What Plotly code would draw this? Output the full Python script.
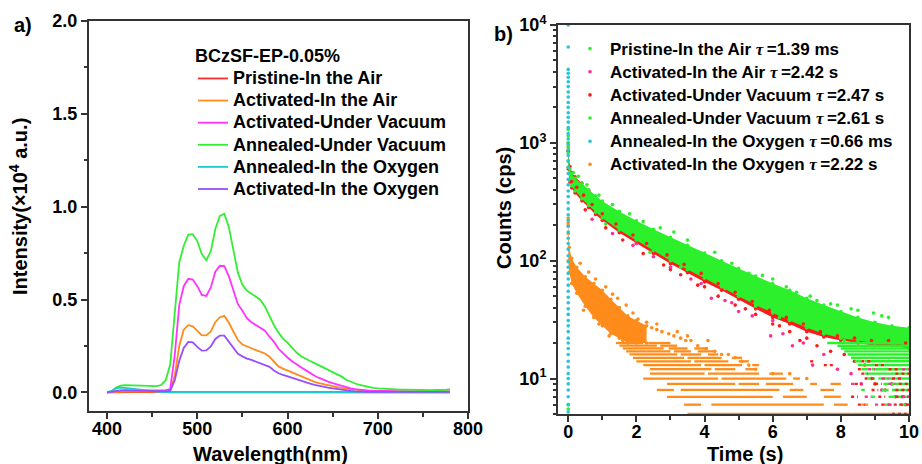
import plotly.graph_objects as go

# ---------------- panel a) : PL spectra ----------------
wavelength = [400, 405, 410, 415, 420, 425, 430, 435, 440, 445,
              450, 455, 460, 465, 470, 475, 480, 485, 490, 495,
              500, 505, 510, 515, 520, 525, 530, 535, 540, 545,
              550, 555, 560, 565, 570, 575, 580, 585, 590, 595,
              600, 605, 610, 615, 620, 625, 630, 635, 640, 645,
              650, 655, 660, 665, 670, 675, 680, 685, 690, 695,
              700, 705, 710, 715, 720, 725, 730, 735, 740, 745,
              750, 755, 760, 765, 770, 775, 780]

pl_pristine_air = [0.000, 0.001, 0.002, 0.002, 0.002, 0.002, 0.002, 0.002, 0.002, 0.002,
                   0.002, 0.002, 0.002, 0.003, 0.003, 0.003, 0.003, 0.003, 0.002, 0.002,
                   0.002, 0.002, 0.002, 0.002, 0.002, 0.002, 0.002, 0.002, 0.002, 0.002,
                   0.002, 0.002, 0.002, 0.002, 0.002, 0.002, 0.002, 0.002, 0.002, 0.002,
                   0.001, 0.001, 0.001, 0.001, 0.001, 0.001, 0.001, 0.001, 0.001, 0.001,
                   0.001, 0.001, 0.001, 0.001, 0.001, 0.001, 0.001, 0.001, 0.001, 0.001,
                   0.001, 0.001, 0.001, 0.001, 0.001, 0.001, 0.001, 0.001, 0.001, 0.001,
                   0.001, 0.001, 0.001, 0.001, 0.001, 0.001, 0.001]

pl_activated_air = [0.000, 0.002, 0.004, 0.005, 0.005, 0.004, 0.004, 0.004, 0.003, 0.003,
                    0.003, 0.003, 0.003, 0.004, 0.008, 0.090, 0.250, 0.338, 0.362, 0.356,
                    0.332, 0.308, 0.307, 0.328, 0.378, 0.405, 0.412, 0.375, 0.328, 0.282,
                    0.258, 0.246, 0.238, 0.228, 0.220, 0.210, 0.192, 0.166, 0.140, 0.128,
                    0.118, 0.106, 0.094, 0.084, 0.075, 0.066, 0.057, 0.050, 0.044, 0.039,
                    0.034, 0.029, 0.025, 0.021, 0.017, 0.013, 0.010, 0.008, 0.007, 0.006,
                    0.005, 0.005, 0.005, 0.005, 0.005, 0.005, 0.005, 0.005, 0.005, 0.005,
                    0.005, 0.005, 0.005, 0.005, 0.005, 0.005, 0.005]

pl_activated_vacuum = [0.000, 0.003, 0.010, 0.012, 0.012, 0.011, 0.011, 0.010, 0.010, 0.009,
                       0.009, 0.009, 0.010, 0.012, 0.018, 0.200, 0.470, 0.572, 0.612, 0.608,
                       0.572, 0.525, 0.520, 0.565, 0.650, 0.682, 0.680, 0.625, 0.550, 0.475,
                       0.440, 0.400, 0.378, 0.362, 0.350, 0.332, 0.300, 0.272, 0.235, 0.210,
                       0.188, 0.168, 0.150, 0.135, 0.120, 0.104, 0.090, 0.078, 0.067, 0.058,
                       0.050, 0.042, 0.034, 0.028, 0.022, 0.018, 0.014, 0.012, 0.010, 0.009,
                       0.008, 0.007, 0.007, 0.007, 0.006, 0.006, 0.006, 0.006, 0.005, 0.005,
                       0.005, 0.005, 0.005, 0.005, 0.005, 0.005, 0.006]

pl_annealed_vacuum = [0.000, 0.006, 0.026, 0.036, 0.039, 0.038, 0.038, 0.036, 0.035, 0.034,
                      0.033, 0.034, 0.040, 0.065, 0.150, 0.420, 0.700, 0.790, 0.850, 0.852,
                      0.815, 0.745, 0.712, 0.760, 0.880, 0.950, 0.962, 0.890, 0.775, 0.645,
                      0.580, 0.548, 0.532, 0.516, 0.498, 0.462, 0.410, 0.362, 0.322, 0.290,
                      0.268, 0.240, 0.215, 0.195, 0.181, 0.169, 0.158, 0.146, 0.134, 0.123,
                      0.112, 0.098, 0.085, 0.068, 0.057, 0.048, 0.040, 0.034, 0.029, 0.025,
                      0.022, 0.020, 0.018, 0.017, 0.016, 0.015, 0.015, 0.014, 0.014, 0.013,
                      0.013, 0.013, 0.012, 0.013, 0.013, 0.014, 0.018]

pl_annealed_oxygen = [0.000, 0.008, 0.022, 0.026, 0.025, 0.022, 0.018, 0.014, 0.010, 0.007,
                      0.005, 0.003, 0.002, 0.001, 0.001, 0.001, 0.001, 0.001, 0.001, 0.001,
                      0.001, 0.001, 0.001, 0.001, 0.001, 0.001, 0.001, 0.001, 0.001, 0.001,
                      0.001, 0.001, 0.001, 0.001, 0.001, 0.001, 0.001, 0.001, 0.001, 0.001,
                      0.001, 0.001, 0.001, 0.001, 0.001, 0.001, 0.001, 0.001, 0.001, 0.001,
                      0.001, 0.001, 0.001, 0.001, 0.001, 0.001, 0.001, 0.001, 0.001, 0.001,
                      0.001, 0.001, 0.001, 0.001, 0.001, 0.001, 0.001, 0.001, 0.001, 0.001,
                      0.001, 0.001, 0.001, 0.001, 0.001, 0.001, 0.001]

pl_activated_oxygen = [0.000, 0.004, 0.010, 0.011, 0.011, 0.010, 0.009, 0.008, 0.007, 0.006,
                       0.005, 0.005, 0.005, 0.006, 0.010, 0.065, 0.170, 0.240, 0.272, 0.270,
                       0.245, 0.225, 0.226, 0.248, 0.288, 0.306, 0.306, 0.275, 0.240, 0.208,
                       0.194, 0.182, 0.175, 0.166, 0.160, 0.150, 0.138, 0.118, 0.103, 0.094,
                       0.086, 0.076, 0.068, 0.060, 0.053, 0.047, 0.041, 0.035, 0.030, 0.026,
                       0.022, 0.018, 0.014, 0.011, 0.008, 0.006, 0.004, 0.003, 0.003, 0.003,
                       0.003, 0.003, 0.003, 0.003, 0.003, 0.003, 0.003, 0.003, 0.003, 0.003,
                       0.003, 0.003, 0.003, 0.003, 0.003, 0.003, 0.003]

spectra_names = ["Pristine-In the Air", "Activated-In the Air", "Activated-Under Vacuum",
                 "Annealed-Under Vacuum", "Annealed-In the Oxygen", "Activated-In the Oxygen"]
spectra_colors = ["#ff2a2a", "#ff8c1a", "#ff33ff", "#33ee33", "#22c8d0", "#9a4dff"]
spectra_values = [pl_pristine_air, pl_activated_air, pl_activated_vacuum,
                  pl_annealed_vacuum, pl_annealed_oxygen, pl_activated_oxygen]

# ---------------- panel b) : phosphorescence decay ----------------
t_band = [0.0, 0.05, 0.1, 0.2, 0.4, 0.6, 0.8, 1.0, 1.5, 2.0, 2.5, 3.0, 3.5,
          4.0, 4.5, 5.0, 5.5, 6.0, 6.5, 7.0, 7.5, 8.0, 8.5, 9.0, 9.5, 10.0]
ann_vac_hi = [820, 600, 545, 500, 450, 400, 355, 320, 262, 218, 185, 158, 135,
              116, 100, 86, 74, 64, 56, 48, 42, 37, 33, 30, 28, 27]
ann_vac_mid = [700, 540, 485, 440, 390, 345, 305, 272, 218, 182, 150, 126, 107,
               91, 78, 66, 56, 48, 42, 37, 32, 29, 27, 25, 24, 23]
ann_vac_lo = [620, 480, 430, 390, 335, 295, 258, 230, 182, 150, 122, 100, 84,
              71, 60, 50, 42, 36, 31, 27, 24, 22, 21, 20, 20, 19]
act_vac_hi = [850, 630, 560, 515, 455, 395, 345, 305, 245, 200, 168, 142, 120,
              102, 88, 75, 64, 55, 48, 42, 37, 33, 30, 28, 26, 25]
act_vac_lo = [600, 465, 415, 375, 322, 283, 247, 220, 173, 142, 115, 94, 79,
              66, 56, 47, 39, 33, 29, 25, 22.5, 21, 20, 19, 19, 18]

ann_vac_out_t = [0.15, 0.3, 0.55, 0.9, 1.3, 1.8, 2.2, 2.7, 3.1, 3.5, 3.9, 4.3, 4.8, 5.3, 5.7,
                 6.0, 6.4, 6.7, 7.1, 7.3, 7.7, 7.9, 8.3, 8.5, 8.96, 9.2, 9.4, 9.74, 9.95,
                 1.1, 2.4, 3.3, 4.6, 5.5, 6.2, 7.5, 8.1, 8.8, 9.6]
ann_vac_out_c = [560, 520, 440, 360, 300, 250, 215, 190, 175, 150, 116, 118, 95, 78, 75,
                 70, 60, 54, 50, 46, 43, 42, 39, 38, 36, 34, 33, 26, 24,
                 205, 118, 88, 58, 41, 33, 24, 21, 21, 20]
act_vac_out_t = [0.5, 1.1, 1.6, 2.2, 2.8, 3.3, 3.8, 4.4, 4.9, 5.5, 6.0, 6.5, 7.0, 7.3,
                 7.7, 8.1, 8.4, 8.7, 9.0, 9.3, 9.6, 9.9, 3.0, 4.0, 5.2, 6.2, 6.8]
act_vac_out_c = [270, 190, 150, 115, 92, 76, 62, 50, 42, 35, 29, 25, 22, 19,
                 17, 16, 14, 13, 9, 8, 7, 6, 84, 60, 39, 28, 21]
act_vac_in_t = [0.1, 0.25, 0.45, 0.7, 1.0, 1.4, 1.9, 2.3, 2.9, 3.4, 3.9, 4.4, 4.9, 5.4,
                5.9, 6.4, 6.9, 7.4, 7.9, 8.4, 8.9, 9.4, 9.9]
act_vac_in_c = [470, 420, 360, 300, 250, 205, 165, 140, 112, 93, 78, 64, 54, 45,
                38, 33, 29, 25, 23, 22, 21, 21, 20]
act_air_t = [0.7, 1.3, 1.9, 2.5, 3.0, 3.6, 4.2, 4.6, 5.0, 5.4, 5.94, 6.3, 6.58, 6.9,
             7.17, 7.5, 7.9, 8.3, 8.6, 8.9, 9.2, 9.5, 9.8, 2.0, 3.9, 4.8, 6.0]
act_air_c = [225, 170, 135, 108, 88, 70, 48, 46, 37, 34, 23, 24, 19, 20,
             13, 16, 12, 11, 9, 10, 8, 9, 7, 140, 64, 44, 31]

# quantised count levels (integer counts) in the long-time tails
ann_vac_tail_levels = [20, 19, 18, 17, 16, 15, 14, 13, 12, 11, 10, 9, 8, 7, 6]
ann_vac_tail_segments = [[(7.6, 10.0)], [(7.9, 10.0)], [(8.0, 10.0)], [(8.1, 10.0)],
                         [(8.2, 10.0)], [(8.3, 10.0)], [(8.4, 8.6), (8.7, 10.0)],
                         [(8.5, 10.0)], [(8.6, 8.8), (8.9, 10.0)], [(8.7, 10.0)],
                         [(8.8, 9.0), (9.1, 10.0)], [(9.0, 9.1), (9.25, 10.0)],
                         [(8.6, 8.7), (9.2, 9.4), (9.5, 10.0)], [(8.9, 9.0), (9.4, 10.0)],
                         [(9.3, 9.4), (9.7, 10.0)]]
act_vac_tail_levels = [14, 13, 12, 11, 10, 9, 8, 7, 6, 5]
act_vac_tail_segments = [[(7.1, 7.2), (8.6, 8.9)], [(7.5, 7.8), (9.0, 9.3)],
                         [(8.5, 8.6), (9.4, 9.7)], [(8.6, 8.8), (9.6, 10.0)],
                         [(8.7, 9.0), (9.5, 9.8)], [(8.4, 8.6), (9.0, 9.2), (9.7, 10.0)],
                         [(8.9, 9.1), (9.6, 10.0)], [(8.3, 8.5), (9.1, 9.3), (9.6, 10.0)],
                         [(8.5, 8.7), (9.2, 10.0)], [(9.5, 10.0)]]
act_air_tail_levels = [12, 10, 9, 7, 6]
act_air_tail_segments = [[(8.8, 9.0), (9.8, 10.0)], [(9.2, 9.4)], [(8.3, 8.5), (9.4, 9.6)],
                         [(8.7, 8.9), (9.8, 10.0)], [(9.0, 9.2), (9.4, 9.6)]]

# Activated - in the oxygen (orange)
t_oxy = [0.0, 0.03, 0.1, 0.25, 0.5, 0.75, 1.0, 1.25, 1.5, 1.75, 2.0, 2.3]
act_oxy_hi = [210, 130, 105, 88, 73, 64, 56, 47, 40, 34, 31, 28]
act_oxy_lo = [100, 80, 64, 53, 41, 33, 28, 24, 22, 20, 20, 20]
act_oxy_spike = [1000, 930, 860, 230, 200, 170]
act_oxy_out_t = [0.35, 0.6, 0.8, 1.1, 1.3, 1.45, 1.7, 1.9, 2.05, 2.3, 2.45, 2.6, 2.75, 2.95,
                 3.1, 3.3, 3.45, 3.6, 3.8, 4.05, 4.3, 4.5, 4.7, 4.9, 5.1, 5.3, 5.5, 6.0, 6.5, 7.0,
                 0.45, 0.9, 1.2, 1.6, 2.6, 3.2, 3.5, 4.1]
act_oxy_out_c = [95, 80, 70, 60, 52, 48, 42, 36, 32, 30, 27, 29, 25, 24,
                 23, 22, 21, 21, 19, 18, 17, 16, 16, 15, 14, 13, 12, 11, 11, 10,
                 38, 29, 23, 21, 26, 25, 23, 21]
act_oxy_levels = [20, 19, 18, 17, 16, 15, 14, 13, 12, 11, 10, 9, 8, 7, 6, 5]
act_oxy_segments = [[(1.4, 2.2), (2.35, 3.0)], [(1.5, 2.6), (2.7, 3.2)],
                    [(1.6, 2.8), (2.95, 3.5), (3.7, 4.1)], [(1.7, 3.0), (3.1, 3.6), (3.8, 4.3)],
                    [(1.8, 3.2), (3.3, 3.9), (4.1, 4.4)], [(1.9, 3.4), (3.5, 4.5), (4.8, 5.1)],
                    [(2.0, 3.6), (3.7, 4.7), (5.0, 5.3)], [(2.2, 3.9), (4.0, 5.1), (5.4, 5.6)],
                    [(2.4, 4.2), (4.3, 4.9), (5.2, 5.5)], [(2.4, 4.0), (4.1, 5.6), (5.9, 6.3)],
                    [(2.2, 4.4), (4.5, 6.4), (6.6, 6.8)],
                    [(2.9, 4.9), (5.0, 5.6), (5.8, 6.6), (7.1, 7.3), (7.7, 8.0)],
                    [(2.6, 3.1), (3.3, 6.2), (6.5, 6.9), (7.4, 7.8)],
                    [(2.9, 6.0), (6.3, 7.0), (7.5, 8.0)],
                    [(3.4, 3.9), (4.2, 7.5), (7.8, 8.2), (8.6, 8.8)], [(3.5, 10.0)]]

# very short-lived samples: all counts at t = 0
ann_oxy_counts = [10000, 6500, 4200, 3900, 3600, 3300, 3000, 2700, 2450, 2200, 2000, 1800,
                  1650, 1500, 1350, 1200, 1080, 970, 870, 780, 700, 620, 550, 490, 440, 390,
                  350, 310, 275, 245, 220, 195, 175, 155, 140, 125, 110, 98, 88, 78, 70, 62,
                  55, 49, 44, 39, 35, 31, 28, 25, 22, 20, 18, 16, 14, 12.5, 11, 10, 9, 8, 7, 6, 5.2]
pristine_counts = [1300, 1150, 1000, 910, 6, 5.5]

decay_labels = ["Pristine-In the Air", "Activated-In the Air", "Activated-Under Vacuum",
                "Annealed-Under Vacuum", "Annealed-In the Oxygen", "Activated-In the Oxygen"]
decay_tau = ["1.39 ms", "2.42 s", "2.47 s", "2.61 s", "0.66 ms", "2.22 s"]

C_GREEN = "#2cf02c"
C_PINK = "#ff2d95"
C_RED = "#ff1a1a"
C_CYAN = "#26c6d6"
C_ORANGE = "#ff8c1a"

FONT = "Liberation Sans, Arial, Helvetica, sans-serif"
FRAME = "#333333"

fig = go.Figure()

# ----- panel a traces -----
for name, vals, col in zip(spectra_names, spectra_values, spectra_colors):
    fig.add_trace(go.Scatter(
        x=wavelength, y=vals, mode="lines",
        name='<span style="font-size:18px">' + name + '</span>',
        line=dict(color=col, width=1.8),
        xaxis="x", yaxis="y", legend="legend"))


def seg_xy(levels, segments):
    xs, ys = [], []
    for lev, segs in zip(levels, segments):
        for s, e in segs:
            xs += [s, e, None]
            ys += [lev, lev, None]
    return xs, ys


def leg_name(i):
    return ('<span style="font-size:17px">' + decay_labels[i] +
            ' <span style="font-family:\'Liberation Serif\', serif"><i>τ</i></span>\u2009=' +
            decay_tau[i] + '</span>')


common2 = dict(xaxis="x2", yaxis="y2", legend="legend2", hoverinfo="skip")
MS = 3.6

# orange quantised rows and band
ox, oy = seg_xy(act_oxy_levels, act_oxy_segments)
fig.add_trace(go.Scatter(x=ox, y=oy, mode="lines", line=dict(color=C_ORANGE, width=2.3),
                         showlegend=False, **common2))
fig.add_trace(go.Scatter(x=t_oxy + t_oxy[::-1], y=act_oxy_hi + act_oxy_lo[::-1],
                         mode="lines", fill="toself", fillcolor=C_ORANGE,
                         line=dict(width=0, color=C_ORANGE), showlegend=False, **common2))
fig.add_trace(go.Scatter(x=t_oxy + t_oxy + act_oxy_out_t + [0.0 for _ in act_oxy_spike],
                         y=act_oxy_hi + act_oxy_lo + act_oxy_out_c + act_oxy_spike,
                         mode="markers", marker=dict(color=C_ORANGE, size=MS),
                         name=leg_name(5), legendrank=6, **common2))

# activated under vacuum (red) band
fig.add_trace(go.Scatter(x=t_band + t_band[::-1], y=act_vac_hi + act_vac_lo[::-1],
                         mode="lines", fill="toself", fillcolor=C_RED,
                         line=dict(width=0, color=C_RED), showlegend=False, **common2))
fig.add_trace(go.Scatter(x=t_band + t_band + act_vac_out_t, y=act_vac_hi + act_vac_lo + act_vac_out_c,
                         mode="markers", marker=dict(color=C_RED, size=MS),
                         name=leg_name(2), legendrank=3, **common2))
# activated in air (pink)
fig.add_trace(go.Scatter(x=act_air_t, y=act_air_c, mode="markers",
                         marker=dict(color=C_PINK, size=MS),
                         name=leg_name(1), legendrank=2, **common2))

# annealed under vacuum (green) band on top
gx, gy = seg_xy(ann_vac_tail_levels, ann_vac_tail_segments)
fig.add_trace(go.Scatter(x=gx, y=gy, mode="lines", line=dict(color=C_GREEN, width=2.4),
                         showlegend=False, **common2))
fig.add_trace(go.Scatter(x=t_band + t_band[::-1], y=ann_vac_hi + ann_vac_lo[::-1],
                         mode="lines", fill="toself", fillcolor=C_GREEN,
                         line=dict(width=0, color=C_GREEN), showlegend=False, **common2))
fig.add_trace(go.Scatter(x=t_band + t_band + t_band + ann_vac_out_t,
                         y=ann_vac_hi + ann_vac_mid + ann_vac_lo + ann_vac_out_c,
                         mode="markers", marker=dict(color=C_GREEN, size=MS),
                         name=leg_name(3), legendrank=4, **common2))

# red / pink specks on top of green
rx, ry = seg_xy(act_vac_tail_levels, act_vac_tail_segments)
fig.add_trace(go.Scatter(x=rx, y=ry, mode="lines", line=dict(color=C_RED, width=2.4, dash="dot"),
                         showlegend=False, **common2))
px_, py_ = seg_xy(act_air_tail_levels, act_air_tail_segments)
fig.add_trace(go.Scatter(x=px_, y=py_, mode="lines", line=dict(color=C_PINK, width=2.4, dash="dot"),
                         showlegend=False, **common2))
fig.add_trace(go.Scatter(x=act_vac_in_t, y=act_vac_in_c, mode="markers",
                         marker=dict(color=C_RED, size=MS), showlegend=False, **common2))

# short-lived samples at t = 0
fig.add_trace(go.Scatter(x=[0.0 for _ in pristine_counts], y=pristine_counts, mode="markers",
                         marker=dict(color=C_GREEN, size=MS),
                         name=leg_name(0), legendrank=1, **common2))
fig.add_trace(go.Scatter(x=[0.0 for _ in ann_oxy_counts], y=ann_oxy_counts, mode="markers",
                         marker=dict(color=C_CYAN, size=MS),
                         name=leg_name(4), legendrank=5, **common2))

W, H = 922, 464
tick_font = dict(family=FONT, size=18, color="black", weight="bold")
axis_common = dict(showline=True, linecolor=FRAME, linewidth=2, mirror=True,
                   ticks="outside", ticklen=6, tickwidth=1.5, tickcolor=FRAME,
                   showgrid=False, zeroline=False, automargin=False, tickfont=tick_font)

log_minor = [m * 10 ** k for k in range(0, 4) for m in range(2, 10) if 5 <= m * 10 ** k < 10000]

fig.update_layout(
    width=W, height=H, margin=dict(l=0, r=0, t=0, b=0),
    paper_bgcolor="white", plot_bgcolor="white",
    font=dict(family=FONT, size=18, color="black"),
    xaxis=dict(domain=[89 / W, 468 / W], range=[380, 800], tickvals=[400, 500, 600, 700, 800],
               minor=dict(tickvals=[450, 550, 650, 750], ticks="outside", ticklen=3.5,
                          tickwidth=1.5, tickcolor=FRAME),
               ticklabelstandoff=-6, anchor="y", **axis_common),
    yaxis=dict(domain=[1 - 411 / H, 1 - 21 / H], range=[-0.1, 2.0],
               tickvals=[0, 0.5, 1.0, 1.5, 2.0], ticktext=["0.0", "0.5", "1.0", "1.5", "2.0"],
               minor=dict(tickvals=[0.25, 0.75, 1.25, 1.75], ticks="outside", ticklen=3.5,
                          tickwidth=1.5, tickcolor=FRAME),
               anchor="x", **axis_common),
    xaxis2=dict(domain=[558 / W, 909 / W], range=[-0.3, 10], tickvals=[0, 2, 4, 6, 8, 10],
                minor=dict(tickvals=[1, 3, 5, 7, 9], ticks="outside", ticklen=3.5,
                           tickwidth=1.5, tickcolor=FRAME),
                ticklabelstandoff=-6, anchor="y2", **axis_common),
    yaxis2=dict(domain=[1 - 414 / H, 1 - 25 / H], type="log", range=[0.69897, 4],
                tickvals=[10, 100, 1000, 10000],
                ticktext=["10<sup>1</sup>", "10<sup>2</sup>", "10<sup>3</sup>", "10<sup>4</sup>"],
                minor=dict(tickvals=log_minor, ticks="outside", ticklen=3.5,
                           tickwidth=1.5, tickcolor=FRAME),
                anchor="x2", **axis_common),
    legend=dict(x=193 / W, y=1 - 39 / H, xanchor="left", yanchor="top",
                bgcolor="rgba(0,0,0,0)", borderwidth=0,
                font=dict(family=FONT, size=14.7, color="black", weight="bold"),
                title=dict(text="BCzSF-EP-0.05%",
                           font=dict(family=FONT, size=18, color="black", weight="bold")),
                tracegroupgap=0),
    legend2=dict(x=570 / W, y=1 - 32 / H, xanchor="left", yanchor="top",
                 bgcolor="rgba(0,0,0,0)", borderwidth=0,
                 font=dict(family=FONT, size=15.5, color="black", weight="bold"),
                 tracegroupgap=0),
    showlegend=True,
)

ann_font = dict(family=FONT, size=20, color="black", weight="bold")
annotations = [
    dict(text="a)", x=23 / W, y=1 - 25 / H),
    dict(text="b)", x=504 / W, y=1 - 34 / H),
    dict(text="Wavelength(nm)", x=270 / W, y=1 - 454 / H),
    dict(text="Time (s)", x=745 / W, y=1 - 454 / H),
    dict(text="Intensity(×10<sup>4</sup> a.u.)", x=19 / W, y=1 - 207 / H, textangle=-90),
    dict(text="Counts (cps)", x=504 / W, y=1 - 208 / H, textangle=-90),
]
for a in annotations:
    fig.add_annotation(xref="paper", yref="paper", xanchor="center", yanchor="middle",
                       showarrow=False, font=ann_font, **a)

fig.write_html("out.html")
